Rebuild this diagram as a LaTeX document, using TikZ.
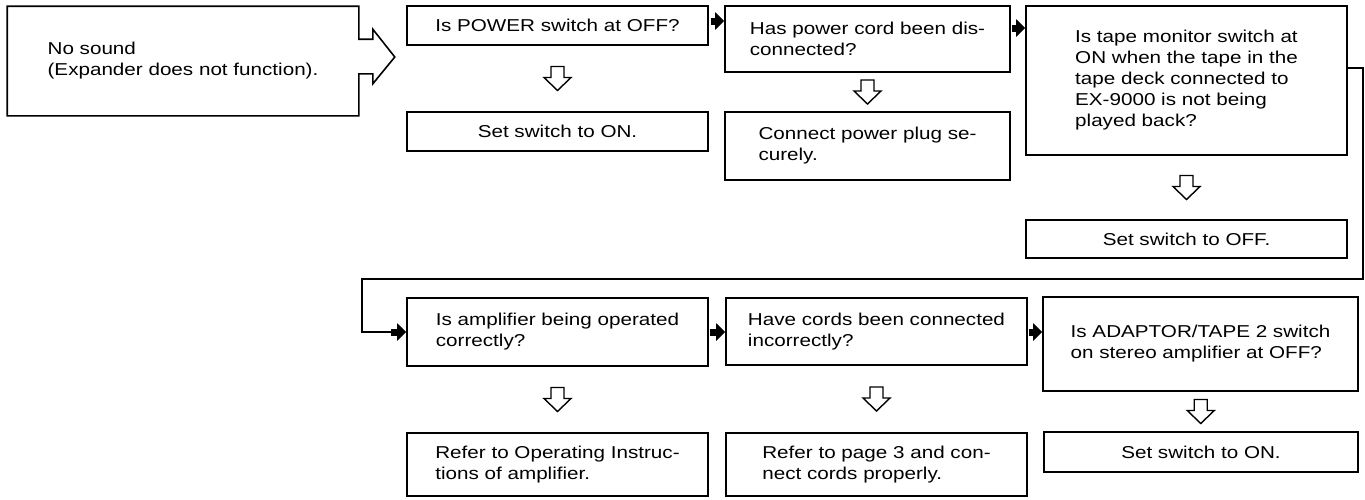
\documentclass[tikz,border=0pt]{standalone}
\usepackage{fontspec}
\setmainfont{Liberation Sans}[FakeStretch=1.2]
\usetikzlibrary{arrows.meta,calc}
\tikzset{
  box/.style={draw, line width=1.6pt, align=left, inner sep=0pt, font=\fontsize{17.2}{21}\selectfont},
  ctrbox/.style={box, align=center},
  hollow/.style={draw, line width=1.4pt, fill=white, line join=miter},
  blk/.style={line width=7pt, -{Triangle[length=9pt,width=17pt]}},
  conn/.style={line width=1.6pt},
}
\newcommand\hdown[2]{%
  \path ($(#1.south)!0.5!(#2.north)$) coordinate (m-#1);
  \draw[hollow] ($(m-#1)+(-6.5,-12)$) -- ($(m-#1)+(6.5,-12)$) -- ($(m-#1)+(6.5,-1)$)
    -- ($(m-#1)+(13.5,-1)$) -- ($(m-#1)+(0,12)$) -- ($(m-#1)+(-13.5,-1)$)
    -- ($(m-#1)+(-6.5,-1)$) -- cycle;}
\begin{document}
\begin{tikzpicture}[x=1pt,y=-1pt]
\useasboundingbox (0,0) rectangle (1365,499);

% start block
\node[box, draw=none, minimum width=350pt, minimum height=108pt] (start) at (183,61)
  {No sound\\(Expander does not function).};
\draw[line width=1.6pt, line join=miter]
  (start.north west) -- (start.north east) -- ($(start.north east)+(0,33)$)
  -- ($(start.north east)+(14,33)$) -- ($(start.north east)+(14,23)$)
  -- ($(start.east)+(36,-4)$)
  -- ($(start.south east)+(14,-32)$) -- ($(start.south east)+(14,-42)$)
  -- ($(start.south east)+(0,-42)$) -- (start.south east) -- (start.south west) -- cycle;

% top row
\node[ctrbox, minimum width=301pt, minimum height=39pt] (q1) at (557.5,25.5) {Is POWER switch at OFF?};
\node[ctrbox, minimum width=301pt, minimum height=39pt] (a1) at (557.5,131.5) {Set switch to ON.};
\node[box, minimum width=285pt, minimum height=66pt] (q2) at (867.5,39) {Has power cord been dis-\\connected?};
\node[box, minimum width=285pt, minimum height=68pt] (a2) at (867.5,146) {Connect power plug se-\\curely.};
\node[box, minimum width=321pt, minimum height=149pt] (q3) at (1186.5,80.5)
  {Is tape monitor switch at\\ON when the tape in the\\tape deck connected to\\EX-9000 is not being\\played back?};
\node[ctrbox, minimum width=321pt, minimum height=38pt] (a3) at (1186.5,239) {Set switch to OFF.};

% bottom row
\node[box, minimum width=301pt, minimum height=68pt] (q4) at (557.5,332) {Is amplifier being operated\\correctly?};
\node[box, minimum width=301pt, minimum height=63pt] (a4) at (557.5,464.5) {Refer to Operating Instruc-\\tions of amplifier.};
\node[box, minimum width=301pt, minimum height=67pt] (q5) at (876.5,331.5) {Have cords been connected\\incorrectly?};
\node[box, minimum width=301pt, minimum height=63pt] (a5) at (876.5,464.5) {Refer to page 3 and con-\\nect cords properly.};
\node[box, minimum width=315pt, minimum height=94pt] (q6) at (1200.5,344) {Is ADAPTOR/TAPE 2 switch\\on stereo amplifier at OFF?};
\node[ctrbox, minimum width=314pt, minimum height=40pt] (a6) at (1201,452) {Set switch to ON.};

% hollow arrows
\hdown{q1}{a1}
\hdown{q2}{a2}
\hdown{q3}{a3}
\hdown{q4}{a4}
\hdown{q5}{a5}
\hdown{q6}{a6}

% black arrows
\coordinate (r1) at (0,21);
\coordinate (r2) at (0,28);
\coordinate (r5) at (0,332);
\draw[blk] ([xshift=2pt]q1.east |- r1) -- (q2.west |- r1);
\draw[blk] ([xshift=1pt]q2.east |- r2) -- (q3.west |- r2);
\draw[blk] ([xshift=1pt]q4.east |- r5) -- (q5.west |- r5);
\draw[blk] ([xshift=1pt]q5.east |- r5) -- (q6.west |- r5);

% long connector
\coordinate (c1) at (1363,68);
\coordinate (c2) at (362,279);
\draw[conn] (q3.east |- c1) -- (c1) |- (c2) |- ([xshift=-15pt]q4.west);
\draw[blk] ([xshift=-15pt]q4.west) -- (q4.west);
\end{tikzpicture}
\end{document}
